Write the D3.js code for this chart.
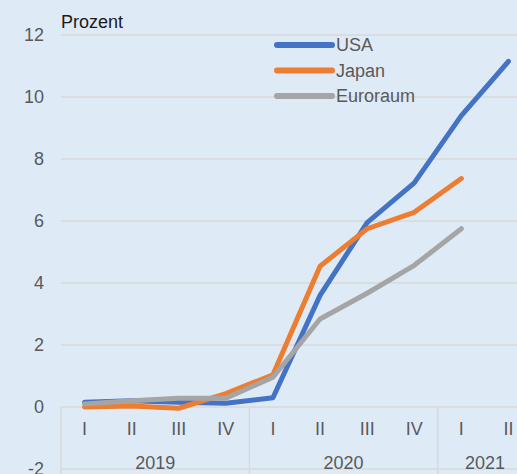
<!DOCTYPE html>
<html>
<head>
<meta charset="utf-8">
<script src="https://cdn.jsdelivr.net/npm/d3@7"></script>
<style>
  html, body { margin: 0; padding: 0; background: #deebf7; overflow: hidden; }
  svg { display: block; font-family: "Liberation Sans", Arial, sans-serif; }
</style>
</head>
<body>
<div class="line-chart-container"></div>
<script>
// quarters and years
const quarters = ['I','II','III','IV','I','II','III','IV','I','II'];
const years = ['2019','2020','2021'];
const yearQuarters = [4, 4, 2];
const yTicks = [-2, 0, 2, 4, 6, 8, 10, 12];

// series values (Prozent)
const usa      = [0.15, 0.2, 0.15, 0.12, 0.3, 3.6, 5.95, 7.23, 9.4, 11.15];
const japan    = [0.0, 0.03, -0.04, 0.43, 1.04, 4.54, 5.75, 6.28, 7.37];
const euroraum = [0.1, 0.2, 0.28, 0.28, 0.96, 2.84, 3.67, 4.57, 5.75];

const seriesNames = ['USA','Japan','Euroraum'];
const seriesColors = ['#4472c4','#ed7d31','#a5a5a5'];
const seriesData = [usa, japan, euroraum];

const svg_width = 517;
const svg_height = 474;
const chart_margin = {top:35, left:61};
const bandWidth = 47.1;
const unitPx = 31;

const svg = d3.select('.line-chart-container').append('svg')
  .attr('width', svg_width).attr('height', svg_height);

svg.append('rect').attr('width', svg_width).attr('height', svg_height).attr('fill', '#deebf7');

// scales
const xScale = d3.scaleBand()
  .domain(d3.range(quarters.length))
  .range([chart_margin.left, chart_margin.left + bandWidth*quarters.length])
  .padding(0);
const yScale = d3.scaleLinear()
  .domain([-2, 12])
  .range([chart_margin.top + 14*unitPx, chart_margin.top]);
const xRight = chart_margin.left + bandWidth*quarters.length;

// gridlines
svg.append('g').attr('class','grid').selectAll('line').data(yTicks).join('line')
  .attr('x1', chart_margin.left).attr('x2', xRight)
  .attr('y1', d=>yScale(d)).attr('y2', d=>yScale(d))
  .attr('stroke', '#d9d9d9').attr('stroke-width', 1.5);

// y tick labels
svg.append('g').attr('class','y axis').selectAll('text').data(yTicks).join('text')
  .attr('x', 44).attr('y', d=>yScale(d)).attr('dy','0.35em')
  .attr('text-anchor','end').attr('font-size', 18).attr('fill','#595959')
  .text(d=>d);

// category separators below the zero line
let cum = [0];
yearQuarters.forEach(n => cum.push(cum[cum.length-1] + n));
svg.append('g').attr('class','x separators').selectAll('line').data(cum).join('line')
  .attr('x1', d=>chart_margin.left + d*bandWidth).attr('x2', d=>chart_margin.left + d*bandWidth)
  .attr('y1', yScale(0)).attr('y2', svg_height)
  .attr('stroke', '#d9d9d9').attr('stroke-width', 1.5);

// quarter labels
svg.append('g').attr('class','x axis').selectAll('text').data(quarters).join('text')
  .attr('x', (d,i)=>xScale(i) + xScale.bandwidth()/2)
  .attr('y', 429).attr('dy','0.35em')
  .attr('text-anchor','middle').attr('font-size', 18).attr('fill','#595959')
  .text(d=>d);

// year labels
svg.append('g').attr('class','x years').selectAll('text').data(years).join('text')
  .attr('x', (d,i)=>chart_margin.left + (cum[i] + yearQuarters[i]/2)*bandWidth)
  .attr('y', 463).attr('dy','0.35em')
  .attr('text-anchor','middle').attr('font-size', 18).attr('fill','#595959')
  .text(d=>d);

// lines
const line = d3.line()
  .x((d,i)=>xScale(i) + xScale.bandwidth()/2)
  .y(d=>yScale(d));

svg.append('g').attr('class','lines').selectAll('path').data(seriesData).join('path')
  .attr('d', d=>line(d))
  .attr('fill','none')
  .attr('stroke', (d,i)=>seriesColors[i])
  .attr('stroke-width', 5)
  .attr('stroke-linejoin','round')
  .attr('stroke-linecap','round');

// header
svg.append('text').attr('x', 61).attr('y', 28)
  .attr('font-size', 18).attr('fill','#1a1a1a').text('Prozent');

// legend
const legend = svg.append('g').attr('class','legend')
  .selectAll('g').data(seriesNames).join('g')
  .attr('transform', (d,i)=>`translate(277,${45 + i*25.5})`);
legend.append('line')
  .attr('x1', 0).attr('x2', 55)
  .attr('stroke', (d,i)=>seriesColors[i])
  .attr('stroke-width', 6).attr('stroke-linecap','round');
legend.append('text')
  .attr('x', 59).attr('dy','0.35em')
  .attr('font-size', 18).attr('fill','#595959')
  .text(d=>d);
</script>
</body>
</html>
